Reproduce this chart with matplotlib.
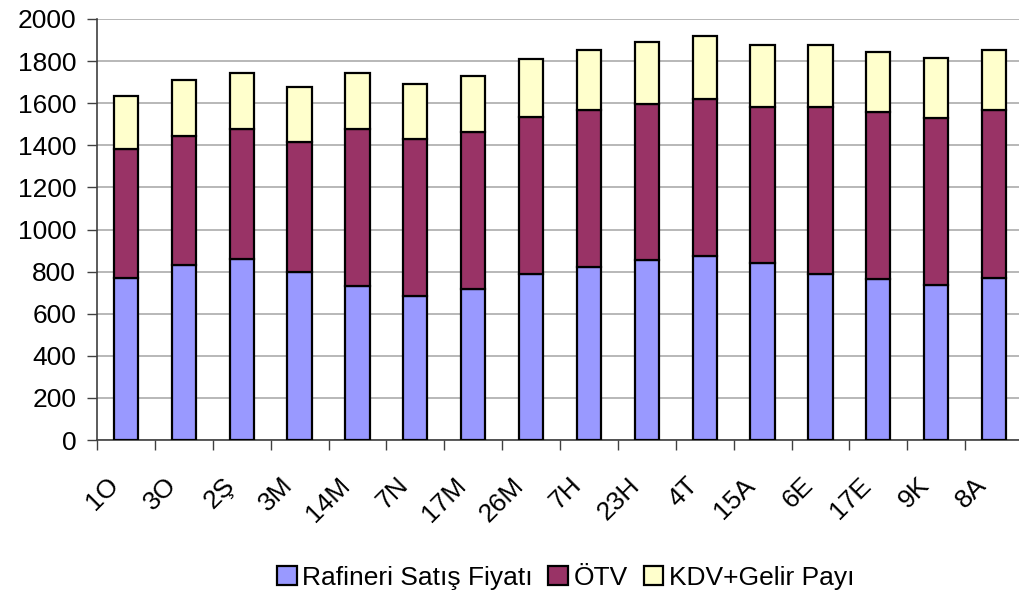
import matplotlib.pyplot as plt
from matplotlib.transforms import ScaledTranslation
import numpy as np

plt.rcParams['font.family'] = ['Liberation Sans', 'DejaVu Sans']

labels = ['1O', '3O', '2Ş', '3M', '14M', '7N', '17M', '26M', '7H', '23H', '4T', '15A', '6E', '17E', '9K', '8A']
rafineri = [768, 830, 858, 798, 730, 684, 717, 787, 822, 853, 873, 840, 788, 764, 736, 769]
otv_top = [1383, 1446, 1478, 1417, 1478, 1430, 1464, 1535, 1568, 1597, 1621, 1583, 1583, 1559, 1531, 1568]
totals = [1635, 1711, 1745, 1678, 1745, 1692, 1730, 1811, 1854, 1891, 1920, 1877, 1877, 1845, 1815, 1854]

otv = [b - a for a, b in zip(rafineri, otv_top)]
kdv = [c - b for b, c in zip(otv_top, totals)]

fig = plt.figure(figsize=(10.19, 6), dpi=100)
ax = fig.add_axes([97 / 1019, 160 / 600, 926 / 1019, 421 / 600])

x = np.arange(len(labels))
w = 0.42
kw = dict(width=w, edgecolor='black', linewidth=1.6, zorder=3)
ax.bar(x, rafineri, color='#9999FF', label='Rafineri Satış Fiyatı', **kw)
ax.bar(x, otv, bottom=rafineri, color='#993366', label='ÖTV', **kw)
ax.bar(x, kdv, bottom=otv_top, color='#FFFFCC', label='KDV+Gelir Payı', **kw)

ax.set_xlim(-0.5, len(labels) - 0.5)
ax.set_ylim(0, 2000)
ax.set_yticks(range(0, 2001, 200))
ax.yaxis.grid(True, color='#ABABAB', linewidth=1.2, zorder=0)
ax.set_axisbelow(True)

ax.set_xticks(x)
ax.set_xticklabels(labels, rotation=45, ha='right', va='center', rotation_mode='anchor', fontsize=19)
ax.set_xticks(np.arange(-0.5, len(labels), 1), minor=True)
ax.tick_params(axis='x', which='major', length=0, pad=30)
ax.tick_params(axis='x', which='minor', length=7, width=1, color='#404040', direction='out')
ax.tick_params(axis='y', labelsize=19, length=7, width=1, color='#404040', direction='out', pad=8)

# shift rotated labels a bit left, like the original
shift = ScaledTranslation(-0.11, 0, fig.dpi_scale_trans)
for lbl in ax.get_xticklabels():
    lbl.set_transform(lbl.get_transform() + shift)

for s in ['top', 'right']:
    ax.spines[s].set_visible(False)
for s in ['left', 'bottom']:
    ax.spines[s].set_color('#404040')
    ax.spines[s].set_linewidth(1.2)

fig.legend(loc='center', bbox_to_anchor=(0.555, 0.037), ncol=3, frameon=False,
           fontsize=19, handlelength=0.75, handleheight=0.75, handletextpad=0.2, columnspacing=0.6)

plt.savefig('out.png', dpi=100)
